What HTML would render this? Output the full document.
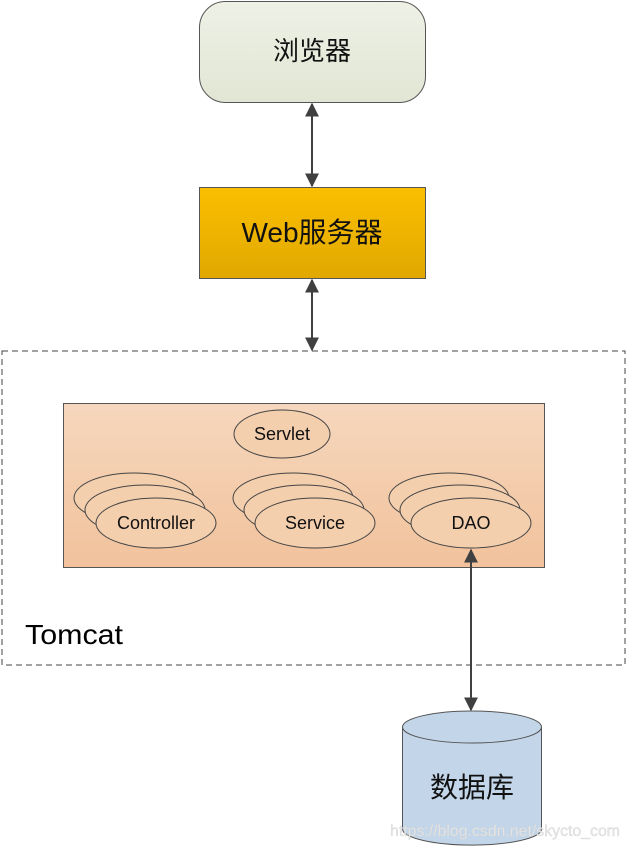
<!DOCTYPE html>
<html><head><meta charset="utf-8"><style>
html,body{margin:0;padding:0;background:#fff;width:628px;height:849px;overflow:hidden}
</style></head><body>
<svg width="628" height="849" viewBox="0 0 628 849" xmlns="http://www.w3.org/2000/svg" font-family="'Liberation Sans','Noto Sans CJK SC',sans-serif">
<defs>
<linearGradient id="g1" x1="0" y1="0" x2="0" y2="1"><stop offset="0" stop-color="#eef1e6"/><stop offset="1" stop-color="#e1e6d4"/></linearGradient>
<linearGradient id="g2" x1="0" y1="0" x2="0" y2="1"><stop offset="0" stop-color="#fbbf00"/><stop offset="1" stop-color="#e0a800"/></linearGradient>
<linearGradient id="g3" x1="0" y1="0" x2="0" y2="1"><stop offset="0" stop-color="#f6d7bd"/><stop offset="1" stop-color="#f1c29c"/></linearGradient>
<marker id="a" viewBox="0 0 10 10" refX="9" refY="5" markerWidth="7" markerHeight="7" orient="auto-start-reverse"><path d="M0,0 L10,5 L0,10 z" fill="#404040"/></marker>
</defs>
<rect x="2" y="351" width="623" height="314" fill="none" stroke="#444" stroke-dasharray="6,4"/>
<rect x="199.5" y="1.5" width="226" height="101" rx="26" fill="url(#g1)" stroke="#555"/>
<text x="312" y="60" font-size="26" text-anchor="middle" fill="#111">浏览器</text>
<rect x="199.5" y="187.5" width="226" height="91" fill="url(#g2)" stroke="#555"/>
<text x="312" y="242" font-size="28" text-anchor="middle" fill="#111">Web服务器</text>
<line x1="312" y1="104" x2="312" y2="186" stroke="#404040" stroke-width="2" marker-start="url(#a)" marker-end="url(#a)"/>
<line x1="312" y1="280" x2="312" y2="350" stroke="#404040" stroke-width="2" marker-start="url(#a)" marker-end="url(#a)"/>
<rect x="63.5" y="403.5" width="481" height="164" fill="url(#g3)" stroke="#555"/>
<g fill="#f4cfae" stroke="#444">
<ellipse cx="282" cy="434" rx="48" ry="24"/>
<ellipse cx="134" cy="498" rx="60" ry="25"/><ellipse cx="145" cy="510" rx="60" ry="25"/><ellipse cx="156" cy="523" rx="60" ry="25"/>
<ellipse cx="293" cy="498" rx="60" ry="25"/><ellipse cx="304" cy="510" rx="60" ry="25"/><ellipse cx="315" cy="523" rx="60" ry="25"/>
<ellipse cx="449" cy="498" rx="60" ry="25"/><ellipse cx="460" cy="510" rx="60" ry="25"/><ellipse cx="471" cy="523" rx="60" ry="25"/>
</g>
<g font-size="18" text-anchor="middle" fill="#111">
<text x="282" y="440">Servlet</text>
<text x="156" y="529">Controller</text>
<text x="315" y="529">Service</text>
<text x="471" y="529">DAO</text>
</g>
<text x="25" y="644" font-size="28" fill="#000" textLength="98" lengthAdjust="spacingAndGlyphs">Tomcat</text>
<line x1="471" y1="550" x2="471" y2="710" stroke="#404040" stroke-width="2" marker-start="url(#a)" marker-end="url(#a)"/>
<path d="M402.5,727 L402.5,829 A69,16 0 0 0 541.5,829 L541.5,727" fill="#c3d6e9" stroke="#555"/>
<ellipse cx="472" cy="727" rx="69.5" ry="16" fill="#c3d6e9" stroke="#555"/>
<text x="472" y="797" font-size="28" text-anchor="middle" fill="#111">数据库</text>
<text x="390" y="836" font-size="16" fill="#e6e6e6" stroke="#d0d0d0" stroke-width="0.3" textLength="230" lengthAdjust="spacingAndGlyphs">https://blog.csdn.net/skycto_com</text>
</svg>
</body></html>
